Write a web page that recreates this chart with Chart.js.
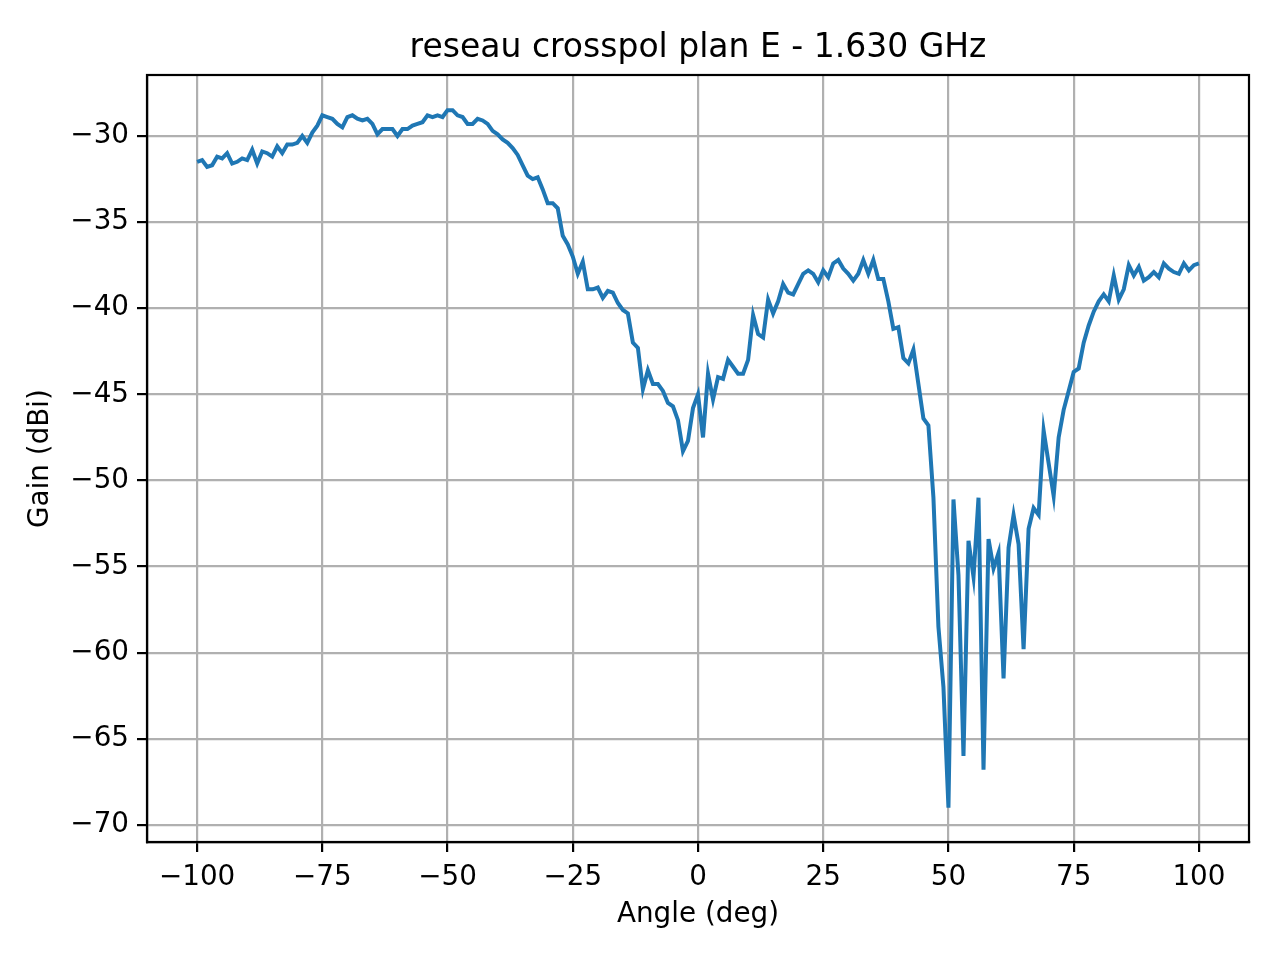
<!DOCTYPE html>
<html><head><meta charset="utf-8">
<script src="https://cdn.jsdelivr.net/npm/chart.js@4"></script>
<style>html,body{margin:0;padding:0;background:#fff}#wrap{width:1280px;height:960px}</style>
</head><body><div id="wrap"><canvas id="c" width="1280" height="960"></canvas></div>
<script>
const angles = [];
for (let a = -100; a <= 100; a++) angles.push(a);
const gain = [
-31.5,-31.4,-31.8,-31.7,-31.2,-31.3,-31.0,-31.6,-31.5,-31.3,
-31.4,-30.8,-31.6,-30.9,-31.0,-31.2,-30.6,-31.0,-30.5,-30.5,
-30.4,-30.0,-30.4,-29.8,-29.4,-28.8,-28.9,-29.0,-29.3,-29.5,
-28.9,-28.8,-29.0,-29.1,-29.0,-29.3,-29.9,-29.6,-29.6,-29.6,
-30.0,-29.6,-29.6,-29.4,-29.3,-29.2,-28.8,-28.9,-28.8,-28.9,
-28.5,-28.5,-28.8,-28.9,-29.3,-29.3,-29.0,-29.1,-29.3,-29.7,
-29.9,-30.2,-30.4,-30.7,-31.1,-31.7,-32.3,-32.5,-32.4,-33.1,
-33.9,-33.9,-34.2,-35.8,-36.3,-37.0,-38.0,-37.3,-38.9,-38.9,
-38.8,-39.4,-39.0,-39.1,-39.7,-40.1,-40.3,-42.0,-42.3,-44.7,
-43.6,-44.4,-44.4,-44.8,-45.5,-45.7,-46.5,-48.3,-47.7,-45.8,
-45.0,-47.5,-43.8,-45.3,-44.0,-44.1,-43.0,-43.4,-43.8,-43.8,
-43.0,-40.4,-41.5,-41.7,-39.5,-40.3,-39.6,-38.6,-39.1,-39.2,
-38.6,-38.0,-37.8,-38.0,-38.5,-37.8,-38.2,-37.4,-37.2,-37.7,
-38.0,-38.4,-38.0,-37.2,-38.0,-37.2,-38.3,-38.3,-39.6,-41.2,
-41.1,-42.9,-43.2,-42.4,-44.4,-46.4,-46.8,-51.0,-58.5,-62.0,
-69.0,-51.1,-55.5,-66.0,-53.5,-55.6,-51.0,-66.8,-53.4,-55.1,
-54.2,-61.5,-53.9,-52.0,-53.7,-59.8,-52.8,-51.6,-52.0,-47.1,
-49.0,-50.9,-47.5,-45.9,-44.8,-43.7,-43.5,-42.0,-41.0,-40.2,
-39.6,-39.2,-39.6,-38.1,-39.5,-38.9,-37.5,-38.1,-37.6,-38.4,
-38.2,-37.9,-38.2,-37.4,-37.7,-37.9,-38.0,-37.4,-37.8,-37.5,
-37.4
];
const xTicks = [-100,-75,-50,-25,0,25,50,75,100];
const yTicks = [-70,-65,-60,-55,-50,-45,-40,-35,-30];
const titleText = 'reseau crosspol plan E - 1.630 GHz';
const xLabel = 'Angle (deg)';
const yLabel = 'Gain (dBi)';

const FONT = 'DejaVu Sans';
const fmt = v => (v < 0 ? '\u2212' + Math.abs(v) : String(v));
const textPlugin = {
  id: 'texts',
  afterDraw(chart) {
    const {ctx, chartArea: a} = chart;
    ctx.save();
    ctx.strokeStyle = '#000'; ctx.lineWidth = 2.2;
    ctx.strokeRect(a.left, a.top, a.right - a.left, a.bottom - a.top);
    ctx.fillStyle = '#000'; ctx.textAlign = 'center'; ctx.textBaseline = 'middle';
    ctx.font = '33px "' + FONT + '"';
    ctx.fillText(titleText, (a.left + a.right) / 2, 48);
    ctx.font = '27.8px "' + FONT + '"';
    ctx.fillText(xLabel, (a.left + a.right) / 2, 915);
    ctx.translate(41, (a.top + a.bottom) / 2); ctx.rotate(-Math.PI / 2);
    ctx.fillText(yLabel, 0, 0);
    ctx.restore();
  }
};
new Chart(document.getElementById('c'), {
  type: 'line',
  data: { datasets: [{ data: angles.map((a, i) => ({x: a, y: gain[i]})), borderColor: '#1f77b4', borderWidth: 4, pointRadius: 0, tension: 0, fill: false }] },
  options: {
    responsive: false, animation: false, devicePixelRatio: 1,
    layout: { padding: { top: 75, right: 31, left: 0, bottom: 0 } },
    plugins: { legend: { display: false }, tooltip: { enabled: false }, title: { display: false } },
    scales: {
      x: { type: 'linear', min: -110, max: 110,
        afterBuildTicks: s => { s.ticks = xTicks.map(v => ({value: v})); },
        afterFit: s => { s.height = 118; },
        grid: { color: '#b0b0b0', lineWidth: 2.2, tickColor: '#000', tickLength: 10, drawOnChartArea: true },
        border: { color: '#000', width: 2.2 },
        ticks: { color: '#000', font: { family: FONT, size: 27.8 }, padding: 9, maxRotation: 0, autoSkip: false, callback: v => fmt(v) } },
      y: { type: 'linear', min: -70.99, max: -26.46,
        afterBuildTicks: s => { s.ticks = yTicks.map(v => ({value: v})); },
        afterFit: s => { s.width = 147; },
        grid: { color: '#b0b0b0', lineWidth: 2.2, tickColor: '#000', tickLength: 10 },
        border: { color: '#000', width: 2.2 },
        ticks: { color: '#000', font: { family: FONT, size: 27.8 }, padding: 8, autoSkip: false, callback: v => fmt(v) } }
    }
  },
  plugins: [textPlugin]
});
</script></body></html>
